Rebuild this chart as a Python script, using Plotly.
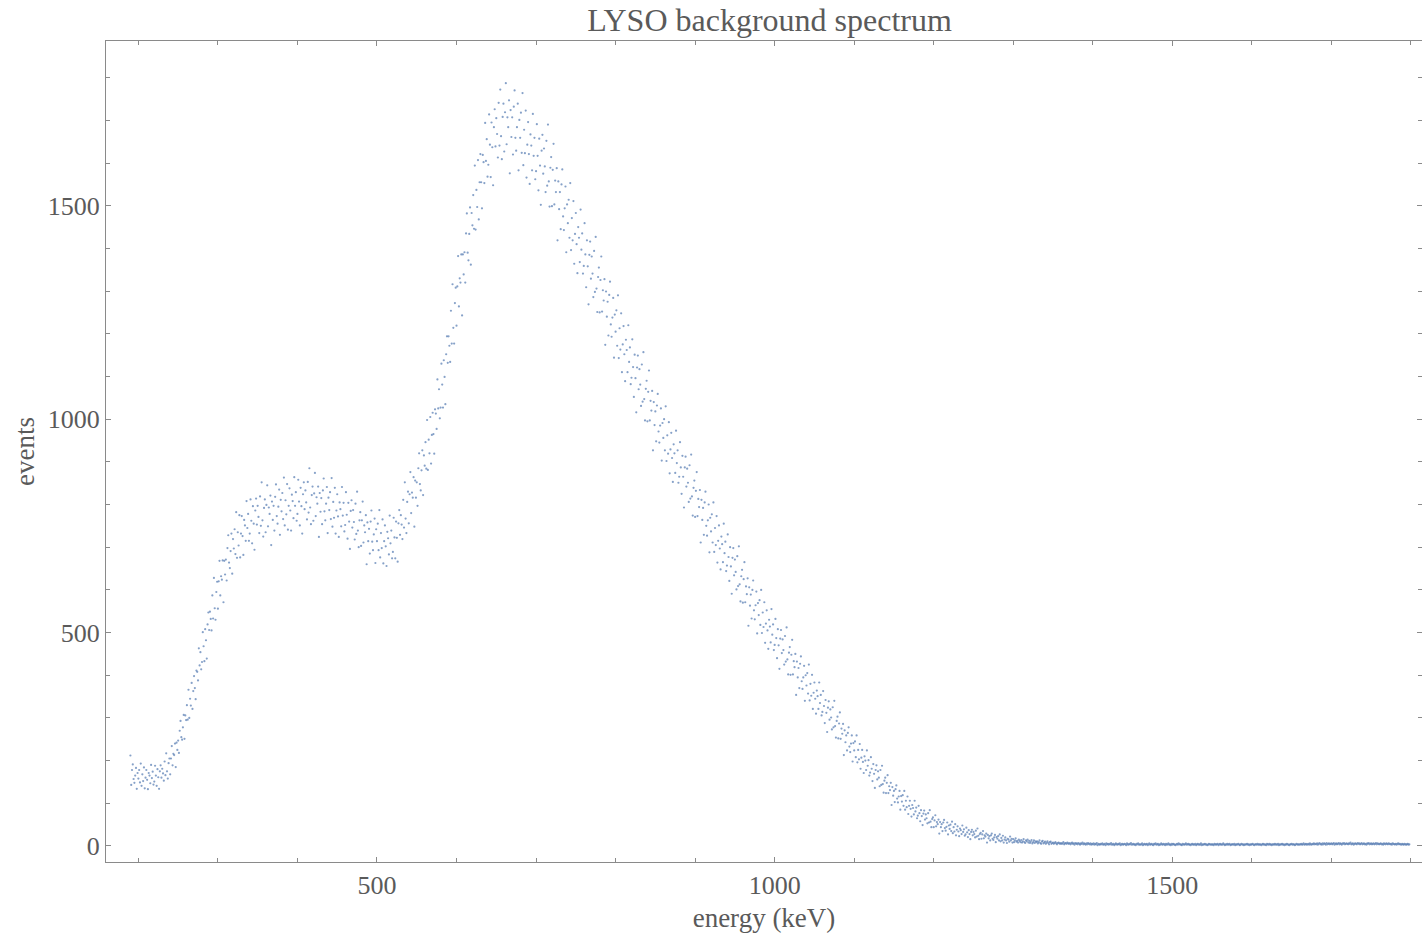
import plotly.graph_objects as go

# ---- data: one value per 1 keV channel ----
energy_start_kev = 190
bin_width_kev = 1

events = [
    # 190
    212, 143, 178, 191, 157, 148, 165, 183, 134, 171,
    158, 178, 149, 193, 141, 168, 152, 184, 135, 160,
    178, 155, 133, 171, 165, 147, 190, 159, 174, 144,
    151, 188, 165, 141, 180, 161, 134, 175, 189, 160,
    # 230
    181, 170, 153, 198, 166, 217, 175, 158, 194, 205,
    168, 205, 234, 189, 216, 213, 240, 185, 242, 225,
    247, 218, 270, 293, 255, 249, 278, 307, 251, 306,
    295, 330, 296, 366, 300, 345, 329, 382, 321, 363,
    # 270
    398, 370, 344, 411, 408, 388, 463, 423, 454, 414,
    431, 501, 468, 433, 508, 482, 439, 519, 547, 506,
    549, 532, 505, 587, 533, 628, 557, 530, 595, 619,
    556, 620, 668, 587, 632, 624, 669, 571, 668, 636,
    # 310
    671, 622, 698, 728, 664, 651, 691, 732, 638, 719,
    697, 742, 684, 782, 675, 735, 704, 775, 676, 732,
    773, 726, 682, 764, 751, 715, 808, 745, 778, 715,
    732, 812, 762, 709, 796, 755, 694, 786, 814, 753,
    # 350
    797, 771, 733, 819, 750, 852, 763, 725, 792, 812,
    735, 799, 845, 749, 793, 778, 821, 705, 807, 764,
    797, 739, 818, 847, 773, 755, 795, 835, 729, 811,
    784, 827, 766, 863, 751, 810, 777, 848, 741, 797,
    # 390
    838, 786, 739, 823, 808, 768, 864, 797, 829, 762,
    778, 858, 807, 751, 839, 796, 732, 824, 852, 789,
    833, 805, 765, 853, 781, 885, 793, 754, 822, 842,
    762, 826, 874, 773, 817, 802, 842, 724, 827, 783,
    # 430
    815, 754, 833, 861, 784, 763, 802, 841, 733, 816,
    787, 829, 766, 862, 748, 806, 769, 839, 732, 786,
    824, 772, 724, 805, 789, 749, 841, 774, 804, 737,
    752, 829, 776, 720, 804, 760, 696, 785, 810, 746,
    # 470
    787, 759, 718, 802, 731, 830, 739, 700, 763, 782,
    703, 763, 807, 711, 751, 735, 775, 660, 758, 714,
    743, 685, 760, 786, 713, 693, 730, 767, 663, 742,
    714, 755, 693, 787, 676, 733, 698, 765, 662, 714,
    # 510
    751, 702, 656, 736, 721, 683, 774, 709, 739, 674,
    689, 769, 723, 674, 760, 722, 666, 756, 787, 729,
    775, 753, 719, 811, 746, 852, 767, 733, 806, 830,
    756, 824, 876, 780, 828, 816, 864, 748, 856, 816,
    # 550
    852, 797, 885, 920, 848, 833, 880, 927, 822, 915,
    891, 946, 884, 998, 881, 952, 920, 1005, 896, 963,
    1015, 965, 919, 1023, 1013, 977, 1093, 1025, 1070, 1002,
    1027, 1130, 1081, 1027, 1138, 1099, 1035, 1152, 1194, 1132,
    # 590
    1194, 1172, 1134, 1254, 1177, 1316, 1214, 1177, 1272, 1308,
    1219, 1311, 1382, 1264, 1330, 1320, 1386, 1243, 1386, 1339,
    1391, 1320, 1435, 1482, 1390, 1372, 1434, 1496, 1362, 1483,
    1454, 1525, 1446, 1594, 1444, 1537, 1497, 1607, 1468, 1555,
    # 630
    1621, 1555, 1494, 1619, 1602, 1553, 1694, 1605, 1656, 1568,
    1596, 1714, 1643, 1567, 1695, 1637, 1548, 1684, 1726, 1639,
    1705, 1668, 1613, 1741, 1641, 1772, 1663, 1609, 1708, 1739,
    1627, 1719, 1787, 1644, 1707, 1684, 1747, 1576, 1724, 1661,
    # 670
    1707, 1620, 1732, 1770, 1659, 1629, 1684, 1739, 1583, 1701,
    1659, 1718, 1624, 1764, 1595, 1678, 1623, 1723, 1566, 1643,
    1696, 1621, 1551, 1667, 1641, 1583, 1715, 1617, 1659, 1562,
    1581, 1691, 1617, 1536, 1657, 1594, 1502, 1629, 1666, 1575,
    # 710
    1634, 1592, 1532, 1652, 1547, 1690, 1557, 1498, 1589, 1614,
    1499, 1584, 1645, 1503, 1559, 1532, 1588, 1419, 1557, 1492,
    1532, 1445, 1550, 1585, 1475, 1443, 1494, 1545, 1391, 1503,
    1459, 1514, 1425, 1553, 1396, 1471, 1419, 1511, 1364, 1434,
    # 750
    1483, 1410, 1342, 1450, 1425, 1368, 1491, 1397, 1435, 1341,
    1359, 1459, 1386, 1309, 1419, 1358, 1269, 1385, 1416, 1329,
    1381, 1341, 1286, 1394, 1298, 1427, 1306, 1251, 1333, 1355,
    1250, 1326, 1381, 1252, 1302, 1278, 1328, 1174, 1299, 1240,
    # 790
    1275, 1196, 1291, 1322, 1222, 1193, 1238, 1284, 1144, 1245,
    1205, 1255, 1172, 1290, 1143, 1213, 1163, 1248, 1110, 1175,
    1218, 1152, 1089, 1186, 1162, 1110, 1220, 1134, 1168, 1082,
    1097, 1187, 1122, 1052, 1151, 1096, 1016, 1121, 1149, 1070,
    # 830
    1117, 1081, 1031, 1128, 1041, 1157, 1047, 997, 1071, 1090,
    995, 1064, 1114, 997, 1043, 1020, 1066, 927, 1040, 986,
    1018, 948, 1032, 1059, 971, 945, 985, 1025, 903, 991,
    956, 1000, 927, 1030, 902, 962, 919, 993, 873, 929,
    # 870
    968, 909, 853, 941, 920, 874, 973, 897, 927, 851,
    865, 946, 887, 825, 914, 865, 793, 887, 912, 842,
    884, 851, 806, 892, 814, 917, 819, 774, 839, 856,
    771, 832, 876, 773, 813, 794, 834, 711, 811, 764,
    # 910
    792, 729, 805, 830, 750, 727, 763, 800, 688, 769,
    737, 777, 711, 805, 689, 745, 705, 773, 664, 715,
    751, 697, 648, 725, 707, 665, 755, 686, 713, 644,
    657, 730, 677, 621, 700, 655, 591, 675, 698, 634,
    # 950
    671, 642, 601, 679, 609, 702, 613, 573, 632, 647,
    570, 625, 665, 571, 608, 590, 627, 516, 606, 563,
    589, 533, 600, 622, 552, 531, 564, 596, 498, 569,
    541, 576, 518, 600, 499, 547, 513, 571, 476, 521,
    # 990
    552, 505, 462, 530, 514, 477, 555, 495, 519, 459,
    471, 532, 487, 440, 508, 470, 415, 486, 506, 452,
    484, 459, 425, 492, 432, 512, 437, 402, 453, 466,
    401, 448, 483, 402, 433, 419, 450, 354, 432, 395,
    # 1030
    417, 370, 427, 444, 386, 368, 395, 422, 340, 400,
    376, 405, 357, 425, 341, 380, 352, 401, 321, 359,
    383, 345, 310, 364, 351, 321, 383, 335, 354, 306,
    314, 363, 328, 288, 342, 312, 267, 324, 339, 296,
    # 1070
    320, 301, 273, 325, 278, 340, 281, 254, 293, 303,
    252, 287, 313, 251, 275, 263, 286, 213, 271, 243,
    259, 224, 265, 278, 233, 220, 240, 259, 198, 241,
    224, 245, 208, 259, 196, 225, 203, 239, 181, 207,
    # 1110
    225, 197, 171, 210, 200, 178, 224, 188, 201, 165,
    172, 208, 181, 152, 192, 169, 136, 178, 189, 156,
    175, 160, 140, 178, 143, 188, 145, 125, 153, 160,
    124, 148, 166, 124, 140, 131, 148, 96, 138, 118,
    # 1150
    129, 103, 133, 142, 111, 102, 116, 129, 85, 117,
    104, 119, 94, 129, 85, 106, 91, 116, 75, 94,
    106, 87, 69, 96, 89, 74, 106, 81, 90, 65,
    71, 94, 77, 58, 84, 70, 49, 76, 83, 62,
    # 1190
    74, 65, 53, 77, 55, 84, 57, 44, 63, 67,
    44, 60, 72, 46, 56, 51, 62, 29, 56, 44,
    51, 35, 55, 61, 42, 36, 45, 55, 27, 48,
    40, 50, 35, 57, 30, 44, 34, 51, 25, 38,
    # 1230
    46, 34, 23, 41, 37, 28, 48, 33, 39, 24,
    27, 43, 32, 21, 37, 28, 16, 33, 38, 25,
    33, 28, 20, 36, 22, 41, 24, 16, 28, 31,
    17, 27, 35, 18, 25, 22, 29, 8, 26, 18,
    # 1270
    23, 13, 25, 29, 17, 14, 20, 26, 9, 21,
    17, 23, 13, 27, 11, 19, 13, 24, 8, 15,
    20, 13, 7, 17, 15, 10, 22, 13, 17, 8,
    16, 9, 13, 18, 10, 12, 8, 15, 12, 9,
    # 1310
    14, 8, 11, 16, 9, 7, 13, 11, 15, 8,
    12, 7, 10, 14, 6, 9, 13, 7, 11, 9,
    11, 6, 9, 13, 7, 5, 10, 12, 6, 8,
    10, 5, 8, 11, 7, 4, 9, 10, 5, 7,
    # 1350
    8, 5, 7, 9, 6, 4, 7, 8, 6, 5,
    7, 5, 6, 9, 4, 6, 7, 5, 8, 6,
    5, 7, 4, 6, 8, 5, 6, 3, 7, 5,
    6, 4, 7, 5, 3, 6, 5, 8, 4, 6,
    # 1390
    5, 3, 6, 4, 7, 5, 4, 6, 3, 5,
    4, 6, 3, 5, 4, 7, 2, 5, 4, 3,
    5, 4, 6, 3, 4, 5, 2, 6, 4, 5,
    3, 5, 4, 7, 3, 4, 5, 2, 4, 6,
    # 1430
    4, 3, 5, 4, 6, 2, 4, 5, 3, 4,
    5, 4, 2, 6, 4, 3, 5, 4, 7, 3,
    4, 5, 3, 4, 2, 5, 4, 6, 3, 4,
    3, 4, 6, 2, 4, 5, 3, 4, 5, 2,
    # 1470
    4, 6, 3, 4, 5, 3, 2, 5, 4, 6,
    3, 4, 5, 2, 4, 3, 6, 4, 3, 5,
    4, 2, 5, 3, 4, 6, 3, 4, 2, 5,
    3, 5, 4, 3, 2, 4, 5, 3, 6, 4,
    # 1510
    4, 3, 2, 5, 4, 3, 4, 6, 3, 4,
    5, 3, 4, 2, 4, 5, 3, 4, 3, 5,
    2, 4, 5, 3, 4, 3, 6, 2, 4, 3,
    4, 5, 3, 4, 2, 3, 5, 4, 3, 4,
    # 1550
    3, 4, 2, 5, 4, 3, 4, 5, 2, 4,
    5, 3, 4, 3, 6, 4, 2, 4, 3, 5,
    3, 4, 5, 2, 3, 4, 4, 3, 5, 2,
    4, 3, 4, 5, 3, 2, 4, 5, 3, 4,
    # 1590
    2, 4, 3, 4, 5, 3, 4, 2, 4, 3,
    4, 5, 3, 2, 4, 4, 3, 5, 3, 4,
    3, 4, 2, 4, 5, 3, 4, 3, 2, 5,
    4, 3, 5, 3, 4, 2, 4, 4, 3, 5,
    # 1630
    3, 4, 3, 5, 2, 4, 3, 4, 5, 3,
    4, 2, 4, 3, 5, 4, 3, 2, 4, 4,
    5, 3, 4, 4, 2, 3, 5, 4, 3, 4,
    3, 4, 5, 3, 4, 6, 3, 4, 5, 3,
    # 1670
    4, 5, 3, 6, 4, 3, 5, 4, 6, 4,
    5, 4, 6, 3, 5, 7, 4, 5, 3, 6,
    4, 6, 5, 3, 7, 4, 5, 6, 4, 5,
    6, 4, 5, 7, 3, 5, 6, 4, 5, 7,
    # 1710
    4, 6, 5, 3, 6, 5, 7, 4, 5, 6,
    5, 4, 6, 5, 8, 4, 5, 6, 3, 5,
    6, 5, 4, 7, 5, 6, 4, 5, 7, 4,
    5, 6, 4, 5, 3, 6, 5, 7, 4, 5,
    # 1750
    6, 4, 5, 6, 4, 5, 7, 4, 6, 5,
    4, 5, 6, 4, 5, 3, 6, 5, 4, 6,
    5, 4, 6, 5, 4, 5, 3, 6, 5, 4,
    4, 5, 3, 5, 6, 4, 5, 4, 3, 5,
    # 1790
    4, 3, 5, 4, 3, 4, 5, 3, 4,
]

energy = [energy_start_kev + i * bin_width_kev for i in range(len(events))]

x_tick_vals = [500, 1000, 1500]
x_tick_text = ["500", "1000", "1500"]
y_tick_vals = [0, 500, 1000, 1500]
y_tick_text = ["0", "500", "1000", "1500"]

title_text = "LYSO background spectrum"
x_title = "energy (keV)"
y_title = "events"

# ---- styling ----
FONT = "Liberation Serif, Times New Roman, serif"
TEXT_COLOR = "#5a5a5a"
AXIS_COLOR = "#8a8a8a"
POINT_COLOR = "#5E81B5"

fig = go.Figure()
fig.add_trace(go.Scatter(
    x=energy, y=events, mode="markers",
    marker=dict(size=2.2, color=POINT_COLOR, opacity=0.75, line=dict(width=0)),
    showlegend=False, hoverinfo="x+y",
))

axis_common = dict(
    showgrid=False, zeroline=False,
    showline=True, linecolor=AXIS_COLOR, linewidth=1.3, mirror="ticks",
    ticks="inside", ticklen=5, tickwidth=1, tickcolor=AXIS_COLOR,
    tickfont=dict(family=FONT, size=26, color=TEXT_COLOR),
)

fig.update_layout(
    width=1422, height=935,
    margin=dict(l=106, r=0, t=41, b=73),
    paper_bgcolor="white", plot_bgcolor="white",
    title=dict(text=title_text, x=(769.5 - 106) / 1316, xref="paper", xanchor="center",
               y=1 - 20 / 935, yref="container", yanchor="middle",
               font=dict(family=FONT, size=32, color=TEXT_COLOR)),
    xaxis=dict(
        range=[159.3, 1813.9], tickvals=x_tick_vals, ticktext=x_tick_text,
        minor=dict(dtick=100, tick0=0, ticks="inside", ticklen=3.5, tickcolor=AXIS_COLOR, tickwidth=1),
        title=dict(text=x_title, font=dict(family=FONT, size=27, color=TEXT_COLOR), standoff=8),
        **axis_common,
    ),
    yaxis=dict(
        range=[-37.5, 1885.9], tickvals=y_tick_vals, ticktext=y_tick_text,
        minor=dict(dtick=100, tick0=0, ticks="inside", ticklen=3.5, tickcolor=AXIS_COLOR, tickwidth=1),
        title=dict(text=y_title, font=dict(family=FONT, size=27, color=TEXT_COLOR), standoff=5),
        **axis_common,
    ),
)

fig.write_html(
    "out.html",
    config={"displayModeBar": False},
    post_script="document.body.style.margin='0px';document.body.style.overflow='hidden';",
)
